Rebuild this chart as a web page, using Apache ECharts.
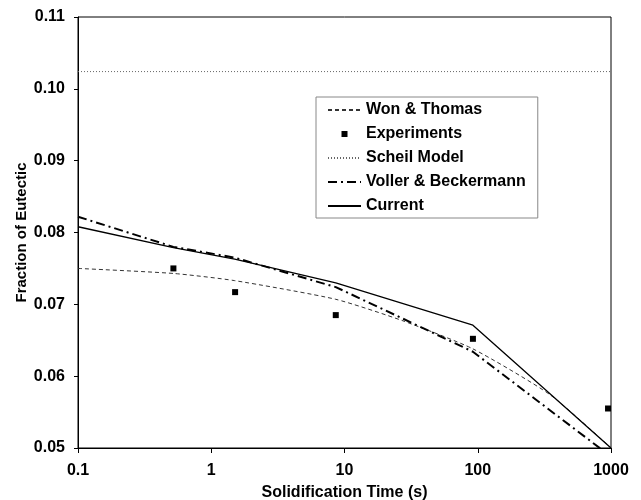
<!DOCTYPE html>
<html>
<head>
<meta charset="utf-8">
<script src="https://cdn.jsdelivr.net/npm/echarts@6/dist/echarts.min.js"></script>
<style>html,body{margin:0;padding:0;background:#fff}#c{width:641px;height:500px}</style>
</head>
<body>
<div id="c"></div>
<script>
// Data
var xTicks = [0.1, 1, 10, 100, 1000];
var yTicks = [0.05, 0.06, 0.07, 0.08, 0.09, 0.10, 0.11];
var wonThomasX = [0.1, 0.52, 1.5, 8.6, 27.5, 92, 350, 1000];
var wonThomasY = [0.0750, 0.0743, 0.0733, 0.0707, 0.0677, 0.0638, 0.0574, 0.0500];
var experimentsX = [0.52, 1.51, 8.6, 92, 950];
var experimentsY = [0.0750, 0.0717, 0.0685, 0.0652, 0.0555];
var scheilX = [0.1, 1000];
var scheilY = [0.1024, 0.1024];
var vollerX = [0.1, 0.52, 1.5, 8.6, 27.5, 92, 1000];
var vollerY = [0.0822, 0.0780, 0.0765, 0.0724, 0.0680, 0.0634, 0.0488];
var currentX = [0.1, 0.52, 1.5, 8.6, 92, 1000];
var currentY = [0.0808, 0.0779, 0.0763, 0.0730, 0.0671, 0.0500];

function pairs(xs, ys) { return xs.map(function (x, i) { return [x, ys[i]]; }); }

var FONT = 'Liberation Sans';
var chart = echarts.init(document.getElementById('c'), null, { renderer: 'canvas' });
chart.setOption({
  animation: false,
  backgroundColor: '#fff',
  grid: {
    left: 78, right: 30, top: 17, bottom: 52, show: true, borderColor: '#000', borderWidth: 1,
    outerBoundsMode: 'none', containLabel: false
  },
  legend: {
    orient: 'vertical', left: 316, top: 97,
    itemWidth: 33, itemHeight: 14, itemGap: 8,
    padding: [5, 12, 4, 11],
    borderColor: '#888', borderWidth: 1, backgroundColor: '#fff',
    itemStyle: { opacity: 0 },
    textStyle: { fontFamily: FONT, fontWeight: 'bold', fontSize: 16, color: '#000' },
    data: [
      { name: 'Won & Thomas' },
      { name: 'Experiments', icon: 'path://M0,0M33,14M13.5,4h6v6h-6z', itemStyle: { opacity: 1, color: '#000' } },
      { name: 'Scheil Model' },
      { name: 'Voller & Beckermann' },
      { name: 'Current' }
    ]
  },
  xAxis: {
    type: 'log', logBase: 10, min: xTicks[0], max: xTicks[xTicks.length - 1],
    name: 'Solidification Time (s)', nameLocation: 'middle', nameGap: 37, nameMoveOverlap: false,
    nameTextStyle: { fontFamily: FONT, fontWeight: 'bold', fontSize: 16, color: '#000' },
    axisLine: { lineStyle: { color: '#000', width: 1 } },
    axisTick: { show: true, inside: false, length: 5, lineStyle: { color: '#000' } },
    minorTick: { show: false },
    splitLine: { show: false },
    axisLabel: {
      margin: 15, fontFamily: FONT, fontWeight: 'bold', fontSize: 16, color: '#000',
      formatter: function (v) { return String(+v.toPrecision(6)); }
    }
  },
  yAxis: {
    type: 'value', min: yTicks[0], max: yTicks[yTicks.length - 1], interval: 0.01,
    name: 'Fraction of Eutectic', nameLocation: 'middle', nameGap: 49, nameMoveOverlap: false,
    nameTextStyle: { fontFamily: FONT, fontWeight: 'bold', fontSize: 15, color: '#000' },
    axisLine: { show: true, lineStyle: { color: '#000', width: 1 } },
    axisTick: { show: true, inside: false, length: 4, lineStyle: { color: '#000' } },
    splitLine: { show: false },
    axisLabel: {
      margin: 13, fontFamily: FONT, fontWeight: 'bold', fontSize: 16, color: '#000',
      formatter: function (v) { return v.toFixed(2); }
    }
  },
  series: [
    {
      name: 'Won & Thomas', type: 'line', data: pairs(wonThomasX, wonThomasY),
      symbol: 'none', smooth: 0.2, color: '#333',
      lineStyle: { color: '#333', width: 1, type: [4, 3] }
    },
    {
      name: 'Experiments', type: 'scatter', data: pairs(experimentsX, experimentsY),
      symbol: 'rect', symbolSize: 6, color: '#000', itemStyle: { color: '#000', opacity: 1 }
    },
    {
      name: 'Scheil Model', type: 'line', data: pairs(scheilX, scheilY),
      symbol: 'none', color: '#666',
      lineStyle: { color: '#666', width: 1, type: [1, 2] }
    },
    {
      name: 'Voller & Beckermann', type: 'line', data: pairs(vollerX, vollerY),
      symbol: 'none', color: '#000', clip: true,
      lineStyle: { color: '#000', width: 2, type: [9, 4, 2, 4] }
    },
    {
      name: 'Current', type: 'line', data: pairs(currentX, currentY),
      symbol: 'none', color: '#000',
      lineStyle: { color: '#000', width: 1.3 }
    }
  ]
});
</script>
</body>
</html>
